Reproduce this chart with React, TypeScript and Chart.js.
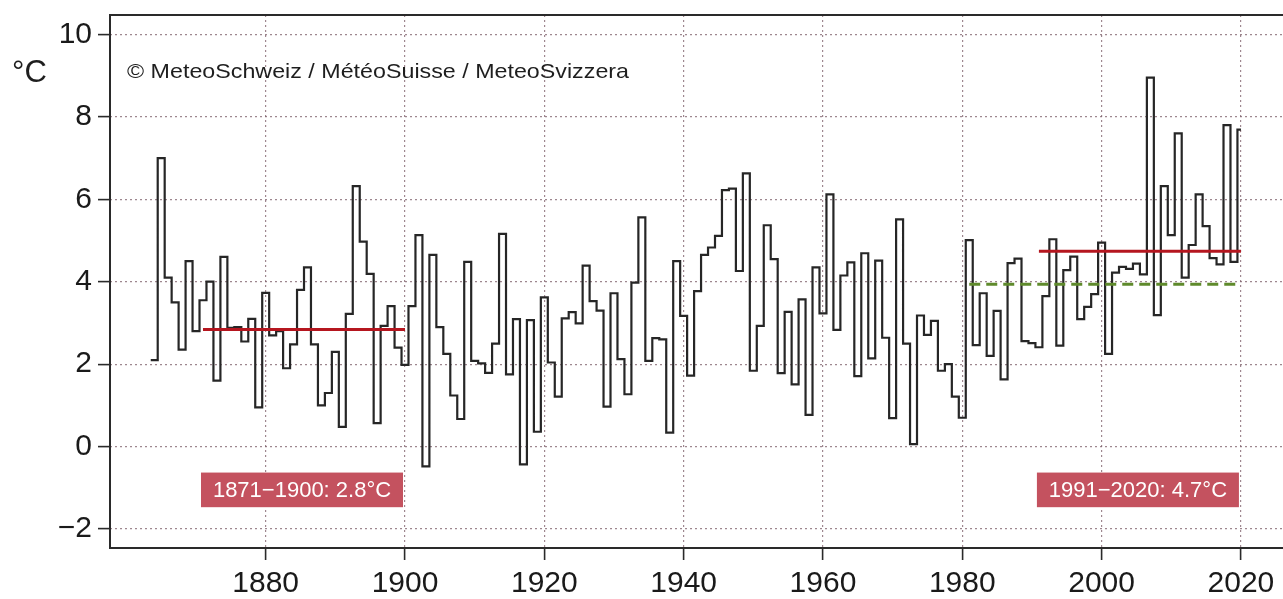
import React, { useEffect, useRef } from 'react';
import { Chart, registerables } from 'chart.js';

Chart.register(...registerables);

// Annual mean temperature (°C), one value per year starting 1864
const FIRST_YEAR = 1864;
const temperatures = [
  2.1, 7.0, 4.1, 3.5, 2.35, 4.5, 2.8,
  3.55, 4.0, 1.6, 4.6, 2.88, 2.9, 2.55, 3.1, 0.95, 3.73,
  2.7, 2.8, 1.9, 2.48, 3.8, 4.35, 2.48, 1.0, 1.3, 2.3,
  0.48, 3.22, 6.32, 4.97, 4.19, 0.57, 2.93, 3.41, 2.4, 1.98,
  3.41, 5.13, -0.48, 4.65, 2.9, 2.25, 1.24, 0.67, 4.48, 2.08,
  2.02, 1.79, 2.5, 5.16, 1.75, 3.09, -0.43, 3.07, 0.36, 3.62,
  2.04, 1.21, 3.11, 3.26, 2.99, 4.39, 3.53, 3.3, 0.97, 3.72,
  2.12, 1.27, 3.98, 5.56, 2.08, 2.63, 2.6, 0.34, 4.5, 3.17,
  1.72, 3.77, 4.65, 4.83, 5.11, 6.22, 6.26, 4.26, 6.63, 1.84,
  2.93, 5.37, 4.55, 1.78, 3.27, 1.51, 3.57, 0.77, 4.35, 3.23,
  6.12, 2.83, 4.15, 4.47, 1.71, 4.69, 2.14, 4.51, 2.64, 0.69,
  5.51, 2.5, 0.06, 3.18, 2.71, 3.05, 1.84, 2.0, 1.21, 0.7,
  5.01, 2.46, 3.72, 2.2, 3.29, 1.63, 4.45, 4.56, 2.56, 2.51,
  2.41, 3.65, 5.03, 2.45, 4.28, 4.61, 3.09, 3.39, 3.7, 4.95,
  2.25, 4.22, 4.36, 4.31, 4.44, 4.18, 8.95, 3.19, 6.32, 5.13,
  7.6, 4.1, 4.89, 6.12, 5.35, 4.57, 4.42, 7.8, 4.48, 7.69,
];
const years = temperatures.map((_, i) => FIRST_YEAR + i);

const xTickYears = [1880, 1900, 1920, 1940, 1960, 1980, 2000, 2020];
const yTickValues = [-2, 0, 2, 4, 6, 8, 10];

// Climate normals
const preindustrialPeriod = [1871, 1900];
const preindustrialMean = 2.84;
const preindustrialLabel = '1871−1900: 2.8°C';
const recentPeriod = [1991, 2020];
const recentMean = 4.74;
const recentLabel = '1991−2020: 4.7°C';
const norm8110Period = [1981, 2020];
const norm8110Mean = 3.94;

const labelBoxTop = -0.63;
const labelBoxBottom = -1.47;

const copyrightText = '© MeteoSchweiz / MétéoSuisse / MeteoSvizzera';
const unitText = '°C';

const FONT = "'Liberation Sans', Arial, Helvetica, sans-serif";

export default function App() {
  const canvasRef = useRef<HTMLCanvasElement | null>(null);

  useEffect(() => {
    const canvas = canvasRef.current;
    if (!canvas) return;

    const stepData = years.map((y, i) => ({ x: y - 0.5, y: temperatures[i] }));
    stepData.push({ x: years[years.length - 1], y: temperatures[temperatures.length - 1] });

    const decorPlugin = {
      id: 'decor',
      beforeDatasetsDraw(chart: any) {
        const { ctx, chartArea } = chart;
        ctx.save();
        ctx.strokeStyle = '#2a2a2a';
        ctx.lineWidth = 2;
        ctx.beginPath();
        ctx.moveTo(chartArea.right + 5, chartArea.top);
        ctx.lineTo(chartArea.left, chartArea.top);
        ctx.lineTo(chartArea.left, chartArea.bottom);
        ctx.lineTo(chartArea.right + 5, chartArea.bottom);
        ctx.stroke();
        ctx.restore();
      },
      afterDraw(chart: any) {
        const { ctx } = chart;
        const xs = chart.scales.x;
        const ys = chart.scales.y;
        ctx.save();
        // unit
        ctx.fillStyle = '#1e1e1e';
        ctx.font = `31px ${FONT}`;
        ctx.textBaseline = 'alphabetic';
        ctx.textAlign = 'left';
        ctx.fillText(unitText, 12, 82);
        // copyright
        ctx.font = `21px ${FONT}`;
        const w = ctx.measureText(copyrightText).width;
        ctx.save();
        ctx.translate(127, 78);
        ctx.scale(502 / w, 1);
        ctx.fillText(copyrightText, 0, 0);
        ctx.restore();
        // label boxes
        const boxes: [number[], string][] = [
          [preindustrialPeriod, preindustrialLabel],
          [recentPeriod, recentLabel],
        ];
        for (const [period, text] of boxes) {
          const x0 = xs.getPixelForValue(period[0]) - 2;
          const x1 = xs.getPixelForValue(period[1]) - 2;
          const y0 = ys.getPixelForValue(labelBoxTop);
          const y1 = ys.getPixelForValue(labelBoxBottom);
          ctx.fillStyle = '#c4525f';
          ctx.fillRect(x0, y0, x1 - x0, y1 - y0);
          ctx.fillStyle = '#ffffff';
          ctx.font = `22px ${FONT}`;
          ctx.textAlign = 'center';
          ctx.textBaseline = 'middle';
          ctx.fillText(text, (x0 + x1) / 2, (y0 + y1) / 2 + 1);
        }
        ctx.restore();
      },
    };

    const zeroPad = (s: any) => {
      s.paddingTop = 0;
      s.paddingBottom = 0;
      s.paddingLeft = 0;
      s.paddingRight = 0;
    };

    const chart = new Chart(canvas, {
      type: 'line',
      data: {
        datasets: [
          {
            data: stepData,
            stepped: 'before',
            borderColor: '#262626',
            borderWidth: 2.2,
            pointRadius: 0,
            fill: false,
            order: 3,
          },
          {
            data: [
              { x: norm8110Period[0], y: norm8110Mean },
              { x: norm8110Period[1], y: norm8110Mean },
            ],
            borderColor: '#5f8a2c',
            borderWidth: 3,
            borderDash: [11, 6],
            pointRadius: 0,
            fill: false,
            order: 2,
          },
          {
            data: [
              { x: preindustrialPeriod[0], y: preindustrialMean },
              { x: preindustrialPeriod[1], y: preindustrialMean },
            ],
            borderColor: '#b5161f',
            borderWidth: 3,
            pointRadius: 0,
            fill: false,
            order: 1,
          },
          {
            data: [
              { x: recentPeriod[0], y: recentMean },
              { x: recentPeriod[1], y: recentMean },
            ],
            borderColor: '#b5161f',
            borderWidth: 3,
            pointRadius: 0,
            fill: false,
            order: 1,
          },
        ],
      },
      options: {
        responsive: false,
        animation: false,
        layout: { padding: { top: 15, left: 0, right: 0, bottom: 0 } },
        plugins: {
          legend: { display: false },
          tooltip: { enabled: false },
          title: { display: false },
        },
        scales: {
          x: {
            type: 'linear',
            min: 1857.65,
            max: 2026.04,
            afterBuildTicks: (s: any) => {
              s.ticks = xTickYears.map((v) => ({ value: v }));
            },
            afterFit: (s: any) => {
              s.height = 51;
              zeroPad(s);
            },
            ticks: {
              autoSkip: false,
              maxRotation: 0,
              padding: 6,
              color: '#1a1a1a',
              font: { family: FONT, size: 30 },
              callback: (v: any) => String(v),
            },
            grid: {
              color: 'rgba(125,95,105,0.75)',
              lineWidth: 1.2,
              tickLength: 12,
              tickColor: '#2a2a2a',
              tickWidth: 1.6,
              tickBorderDash: [],
            },
            border: { display: false, dash: [2, 3] },
          },
          y: {
            type: 'linear',
            min: -2.46,
            max: 10.47,
            afterBuildTicks: (s: any) => {
              s.ticks = yTickValues.map((v) => ({ value: v }));
            },
            afterFit: (s: any) => {
              s.width = 110;
              zeroPad(s);
            },
            ticks: {
              padding: 6,
              color: '#1a1a1a',
              font: { family: FONT, size: 30 },
              callback: (v: any) => String(v).replace('-', '−'),
            },
            grid: {
              color: 'rgba(125,95,105,0.75)',
              lineWidth: 1.2,
              tickLength: 12,
              tickColor: '#2a2a2a',
              tickWidth: 1.6,
              tickBorderDash: [],
            },
            border: { display: false, dash: [2, 3] },
          },
        },
      },
      plugins: [decorPlugin],
    });

    return () => {
      chart.destroy();
    };
  }, []);

  return (
    <div style={{ position: 'fixed', left: 0, top: 0, width: 1283, height: 599, background: '#ffffff' }}>
      <canvas ref={canvasRef} width={1283} height={599} style={{ width: 1283, height: 599, display: 'block' }} />
    </div>
  );
}
